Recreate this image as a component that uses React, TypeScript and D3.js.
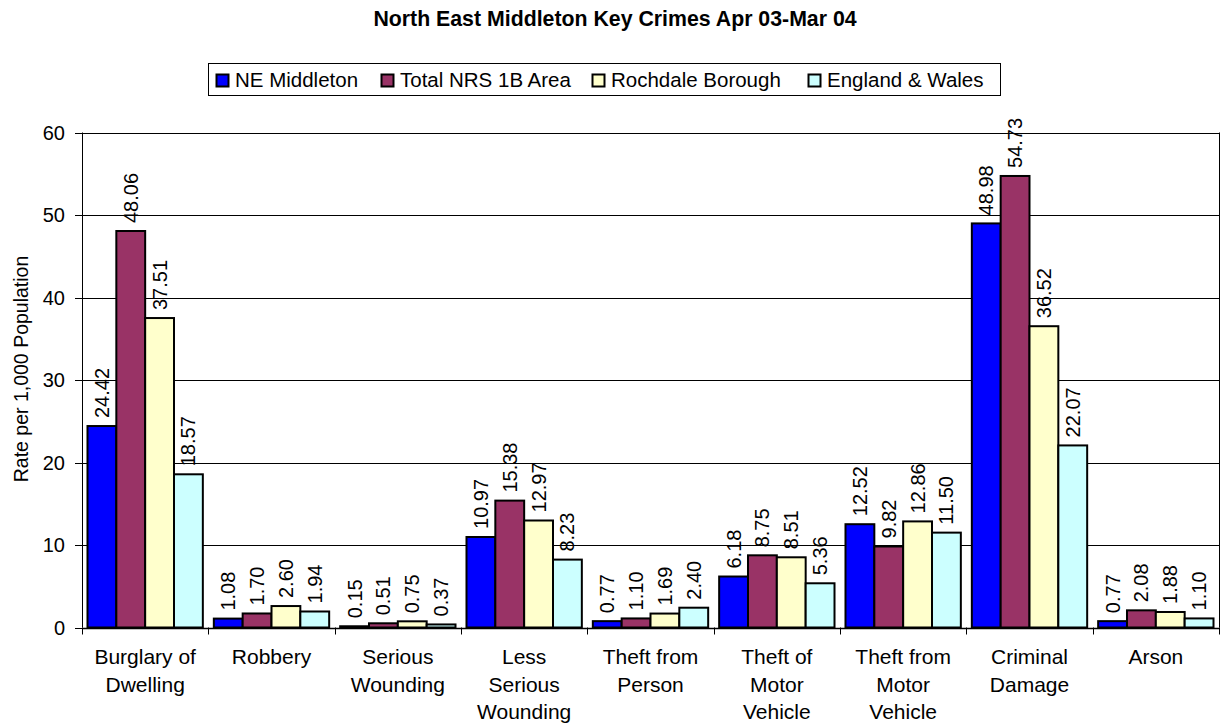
import React from "react";
import * as d3 from "d3";

const title = "North East Middleton Key Crimes Apr 03-Mar 04";
const yAxisTitle = "Rate per 1,000 Population";
const categories = [
  "Burglary of|Dwelling",
  "Robbery",
  "Serious|Wounding",
  "Less|Serious|Wounding",
  "Theft from|Person",
  "Theft of|Motor|Vehicle",
  "Theft from|Motor|Vehicle",
  "Criminal|Damage",
  "Arson",
];
const seriesNames = ["NE Middleton", "Total NRS 1B Area", "Rochdale Borough", "England & Wales"];
const neMiddleton = [24.42, 1.08, 0.15, 10.97, 0.77, 6.18, 12.52, 48.98, 0.77];
const totalNrs = [48.06, 1.7, 0.51, 15.38, 1.1, 8.75, 9.82, 54.73, 2.08];
const rochdale = [37.51, 2.6, 0.75, 12.97, 1.69, 8.51, 12.86, 36.52, 1.88];
const englandWales = [18.57, 1.94, 0.37, 8.23, 2.4, 5.36, 11.5, 22.07, 1.1];
const yTicks = [0, 10, 20, 30, 40, 50, 60];
const seriesColors = ["#0000FF", "#993366", "#FFFFCC", "#CCFFFF"];

const FONT = "'Liberation Sans', Arial, sans-serif";
const legendSwatchX = [216, 381, 592, 808];

export default function App() {
  const W = 1225, H = 727;
  const left = 82, right = 1219, top = 132.5, bottom = 627.5;
  const series = [neMiddleton, totalNrs, rochdale, englandWales];

  const x = d3.scaleBand<number>().domain(d3.range(categories.length)).range([left, right]).paddingInner(0.087).paddingOuter(0.0435);
  const xs = d3.scaleBand<number>().domain(d3.range(series.length)).range([0, x.bandwidth()]);
  const y = d3.scaleLinear().domain([0, 60]).range([bottom, top]);
  const step = (right - left) / categories.length;

  const legFont = 20.5;

  return (
    <svg width={W} height={H} style={{ position: "absolute", left: 0, top: 0, background: "#fff" }} fontFamily={FONT}>
      <rect x={0} y={0} width={W} height={H} fill="#fff" />
      <text x={615} y={26} textAnchor="middle" fontWeight="bold" fontSize={21.3}>{title}</text>

      {/* legend */}
      <rect x={208.5} y={63.5} width={792} height={32} fill="#fff" stroke="#000" strokeWidth={1} />
      {seriesNames.map((n, i) => (
        <g key={i}>
          <rect x={legendSwatchX[i] + 0.5} y={74.5} width={12} height={12} fill={seriesColors[i]} stroke="#000" strokeWidth={2} />
          <text x={legendSwatchX[i] + 19} y={87} fontSize={legFont}>{n}</text>
        </g>
      ))}

      {/* gridlines */}
      {yTicks.map((t) => (
        <g key={t}>
          {t > 0 && <line x1={left} x2={right} y1={Math.round(y(t)) + 0.5} y2={Math.round(y(t)) + 0.5} stroke="#000" strokeWidth={1} />}
          <line x1={left - 7} x2={left} y1={Math.round(y(t)) + 0.5} y2={Math.round(y(t)) + 0.5} stroke="#000" strokeWidth={1} />
          <text x={65} y={y(t)} dy="0.35em" textAnchor="end" fontSize={20}>{t}</text>
        </g>
      ))}
      <line x1={right + 0.5} x2={right + 0.5} y1={top} y2={bottom} stroke="#000" strokeWidth={1} />

      {/* bars */}
      {categories.map((c, ci) => (
        <g key={ci}>
          {series.map((s, si) => {
            const bx = (x(ci) as number) + (xs(si) as number);
            const bw = xs.bandwidth();
            const by = y(s[ci]);
            return (
              <g key={si}>
                <rect x={bx} y={by} width={bw} height={bottom - by} fill={seriesColors[si]} stroke="#000" strokeWidth={2} />
                <text
                  transform={`translate(${bx + bw / 2},${by - 8}) rotate(-90)`}
                  dy="0.35em"
                  fontSize={20}
                >
                  {s[ci].toFixed(2)}
                </text>
              </g>
            );
          })}
        </g>
      ))}

      {/* axes */}
      <line x1={left + 0.5} x2={left + 0.5} y1={top} y2={bottom} stroke="#000" strokeWidth={1} />
      <line x1={left} x2={right + 1} y1={Math.round(bottom) + 0.5} y2={Math.round(bottom) + 0.5} stroke="#000" strokeWidth={1.5} />
      {d3.range(categories.length + 1).map((i) => (
        <line key={i} x1={Math.round(left + i * step) + 0.5} x2={Math.round(left + i * step) + 0.5} y1={bottom} y2={bottom + 7} stroke="#000" strokeWidth={1} />
      ))}
      {categories.map((c, ci) => (
        <text key={ci} x={left + (ci + 0.5) * step} y={664} textAnchor="middle" fontSize={21}>
          {c.split("|").map((l, li) => (
            <tspan key={li} x={left + (ci + 0.5) * step} dy={li === 0 ? 0 : 27.5}>{l}</tspan>
          ))}
        </text>
      ))}

      <text transform={`translate(21,369) rotate(-90)`} textAnchor="middle" dy="0.35em" fontSize={19.5}>{yAxisTitle}</text>
    </svg>
  );
}
